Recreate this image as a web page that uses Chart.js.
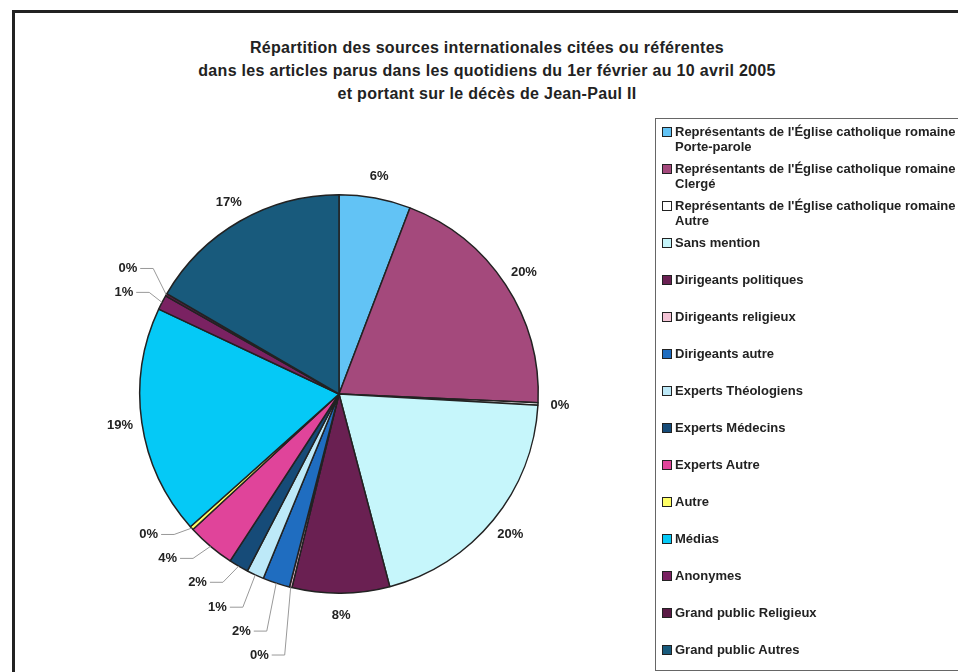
<!DOCTYPE html>
<html>
<head>
<meta charset="utf-8">
<script src="https://cdn.jsdelivr.net/npm/chart.js@4.4.0/dist/chart.umd.min.js"></script>
<style>
  body { margin: 0; width: 958px; height: 672px; overflow: hidden; position: relative; background: #fff;
         font-family: "Liberation Sans", Arial, sans-serif; color: #222; }
  #frame { position: absolute; left: 12px; top: 10px; width: 980px; height: 700px;
           border-left: 3px solid #222; border-top: 3px solid #222; }
  #title { position: absolute; left: 0; width: 974px; top: 36px; text-align: center;
           font-weight: bold; font-size: 16px; letter-spacing: 0.3px; line-height: 23px; }
  #chart { position: absolute; left: 0; top: 0; }
  #legend { position: absolute; left: 655px; top: 118px; width: 340px; height: 551px;
            border: 1px solid #666; }
  .item { position: absolute; left: 6px; font-weight: bold; font-size: 13px; line-height: 15px; white-space: nowrap; }
  .box { position: absolute; left: 0; top: 3px; width: 8px; height: 8px; border: 1px solid #222; }
  .txt { position: absolute; left: 13px; top: 0; }
</style>
</head>
<body>
<div id="frame"></div>
<div id="title">Répartition des sources internationales citées ou référentes<br>dans les articles parus dans les quotidiens du 1er février au 10 avril 2005<br>et portant sur le décès de Jean-Paul II</div>
<canvas id="chart" width="958" height="672"></canvas>
<div id="legend"></div>
<script>
// categories (legend text, second line after \n)
const categories = [
  "Représentants de l'Église catholique romaine\nPorte-parole",
  "Représentants de l'Église catholique romaine\nClergé",
  "Représentants de l'Église catholique romaine\nAutre",
  "Sans mention",
  "Dirigeants politiques",
  "Dirigeants religieux",
  "Dirigeants autre",
  "Experts Théologiens",
  "Experts Médecins",
  "Experts Autre",
  "Autre",
  "Médias",
  "Anonymes",
  "Grand public Religieux",
  "Grand public Autres"
];

// share of sources (%)
const values = [5.8, 19.9, 0.2, 20.0, 7.9, 0.2, 2.2, 1.4, 1.6, 3.9, 0.3, 18.6, 1.2, 0.2, 16.6];

const colors = [
  '#62c3f5', '#a4497c', '#ffffff', '#c6f6fb', '#6a2052',
  '#f4c4d6', '#1f6dc0', '#bde9f8', '#164b78', '#e0449a',
  '#ffff66', '#05c9f6', '#7a2262', '#5a1a45', '#185a7c'
];

// legend built from the arrays
const legend = document.getElementById('legend');
categories.forEach((c, i) => {
  const d = document.createElement('div');
  d.className = 'item';
  d.style.top = (5 + i * 37) + 'px';
  d.innerHTML = '<span class="box" style="background:' + colors[i] + '"></span><span class="txt">' +
    c.replace('\n', '<br>') + '</span>';
  legend.appendChild(d);
});

// percent labels, some with grey leader lines
const pieLabels = {
  id: 'pieLabels',
  afterDatasetsDraw(chart, args, opts) {
    const ctx = chart.ctx;
    const meta = chart.getDatasetMeta(0);
    const total = values.reduce((a, b) => a + b, 0);
    ctx.save();
    ctx.font = 'bold 13px "Liberation Sans", Arial, sans-serif';
    ctx.fillStyle = '#222';
    ctx.textAlign = 'center';
    ctx.textBaseline = 'middle';
    meta.data.forEach((arc, i) => {
      const p = arc.getProps(['x', 'y', 'startAngle', 'endAngle', 'outerRadius'], true);
      const mid = (p.startAngle + p.endAngle) / 2;
      const r = p.outerRadius;
      const txt = Math.round(values[i] / total * 100) + '%';
      const c = opts.callouts[i];
      if (c) {
        const lx = p.x + c[0] * r, ly = p.y + c[1] * r;
        ctx.fillText(txt, lx, ly);
        const w = ctx.measureText(txt).width;
        ctx.strokeStyle = '#999';
        ctx.lineWidth = 1;
        ctx.beginPath();
        ctx.moveTo(lx + w / 2 + 3, ly);
        ctx.lineTo(lx + w / 2 + 16, ly);
        ctx.lineTo(p.x + Math.cos(mid) * r, p.y + Math.sin(mid) * r);
        ctx.stroke();
      } else {
        ctx.fillText(txt, p.x + Math.cos(mid) * (r + 22), p.y + Math.sin(mid) * (r + 22));
      }
    });
    ctx.restore();
  }
};

new Chart(document.getElementById('chart'), {
  type: 'pie',
  data: {
    labels: categories,
    datasets: [{
      data: values,
      backgroundColor: colors,
      borderColor: '#222',
      borderWidth: 1.5
    }]
  },
  options: {
    responsive: false,
    animation: false,
    devicePixelRatio: 1,
    layout: { padding: { left: 139, top: 194, right: 419, bottom: 78 } },
    plugins: {
      legend: { display: false },
      tooltip: { enabled: false },
      pieLabels: {
        callouts: {
          5: [-0.40, 1.31], 6: [-0.49, 1.19], 7: [-0.61, 1.07], 8: [-0.71, 0.945],
          9: [-0.86, 0.825], 10: [-0.955, 0.705], 12: [-1.08, -0.51], 13: [-1.06, -0.63]
        }
      }
    }
  },
  plugins: [pieLabels]
});
</script>
</body>
</html>
